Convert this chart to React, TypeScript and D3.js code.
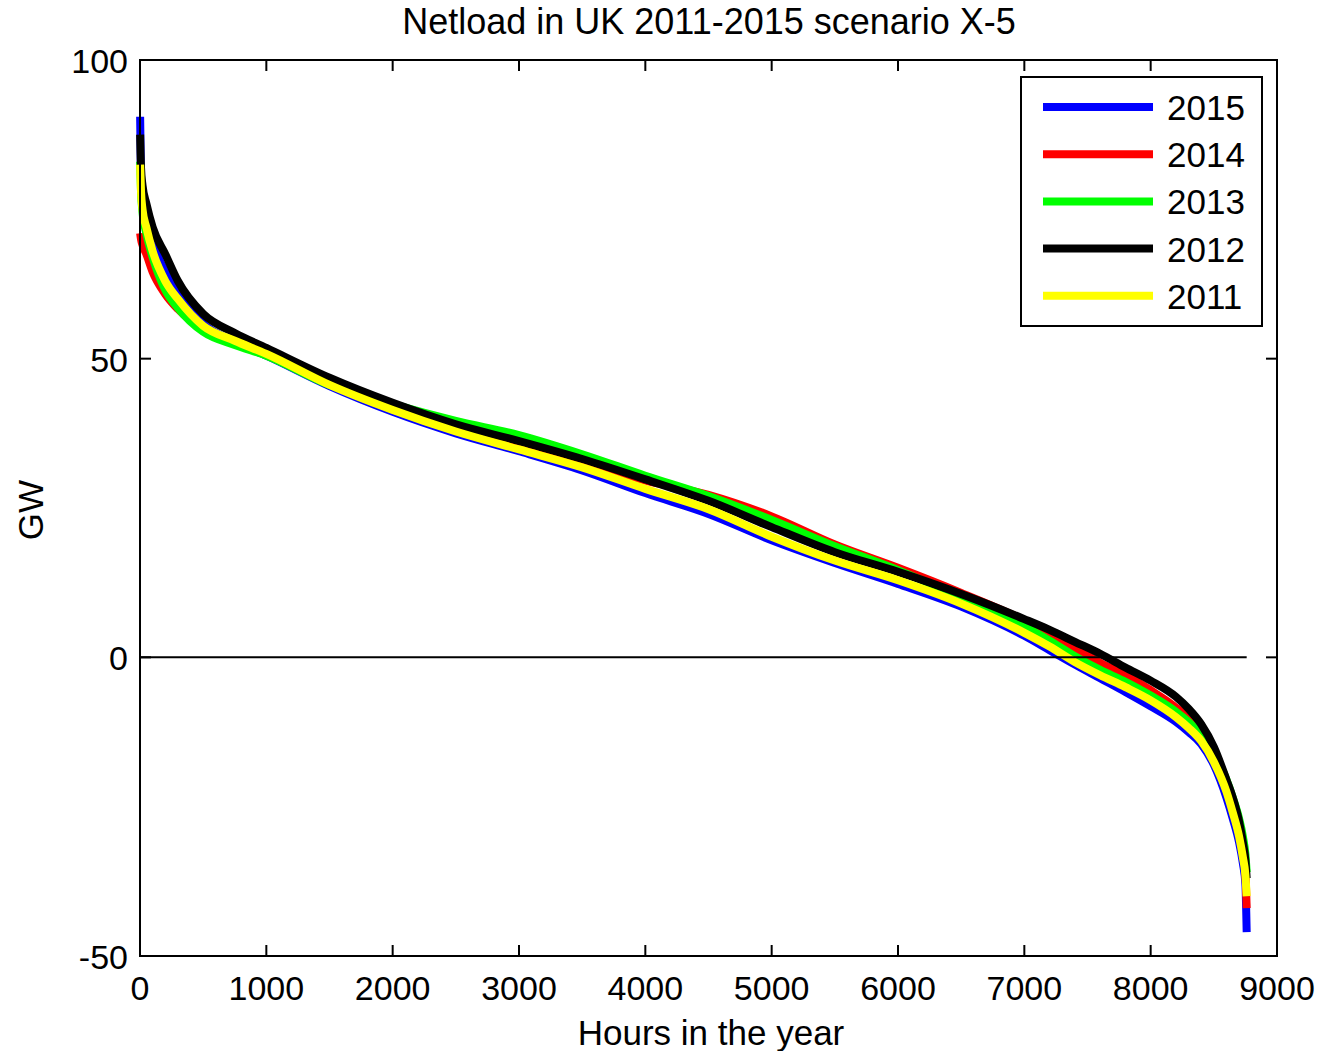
import * as d3 from 'd3';

// hours in the year (sorted duration curve sample points)
const hours = [
  1, 8, 20, 50, 100, 200, 300, 500, 750, 1000, 1500, 2000, 2500, 3000, 3500, 4000, 4500, 5000, 5500, 6000, 6500,
  7000, 7200, 7400, 7600, 7800, 8000, 8200, 8300, 8400, 8500, 8600, 8650, 8700, 8730, 8750, 8760,
];

// netload GW
const netload2015 = [
  90.5, 80, 77, 73, 69.5, 64.5, 61, 55.8, 52.8, 50.5, 45.4, 41.1, 37.5, 34.5, 31.3, 27.5, 24, 19.6, 15.8, 12.3,
  8.5, 3.6, 1.2, -1.2, -3.5, -5.8, -8.2, -10.8, -12.5, -14.5, -18, -23.5, -27, -31, -34.5, -38, -46,
];
const netload2014 = [
  71, 70, 69, 67.5, 64.5, 60.8, 58.3, 55, 52.6, 50.6, 45.8, 42, 38.3, 35.3, 32.4, 29.6, 27.2, 23.6, 18.9, 15,
  10.8, 6.2, 4, 1.6, -0.9, -2.9, -5.5, -8.4, -10.2, -12.5, -16, -21.5, -25, -29, -32.5, -36, -42,
];
const netload2013 = [
  83, 78, 74.5, 71, 67, 61.5, 58.5, 54.5, 52.3, 50.5, 45.6, 42.4, 39.6, 37.2, 34, 30.4, 27, 23, 18.6, 14.6, 10,
  5.2, 2.8, 0.2, -2.1, -4.1, -6.4, -9.1, -10.8, -13, -16, -20.5, -23.5, -27, -30, -33, -36,
];
const netload2012 = [
  87.5, 82, 79, 76, 72, 67.5, 63, 57.5, 54.3, 51.8, 46.8, 42.6, 39, 36.2, 33.2, 29.8, 26.2, 21.8, 17.6, 14.3,
  10.6, 6.4, 4.6, 2.6, 0.6, -1.7, -3.9, -6.6, -8.6, -11.2, -15, -20.5, -23.5, -27.5, -31, -34, -37,
];
const netload2011 = [
  82.5, 78, 75, 72, 68, 63, 60, 55.5, 53, 50.8, 45.6, 41.4, 37.8, 34.8, 31.8, 28.2, 24.8, 20.2, 16.2, 12.9, 9,
  4.1, 1.8, -0.8, -3, -5, -7.2, -10, -11.8, -14, -17.5, -22.5, -26, -30, -33.5, -36.5, -40,
];

const years = ['2015', '2014', '2013', '2012', '2011'];
const colors = ['#0000ff', '#ff0000', '#00ff00', '#000000', '#ffff00'];
const seriesValues = [netload2015, netload2014, netload2013, netload2012, netload2011];

const xTicks = [0, 1000, 2000, 3000, 4000, 5000, 6000, 7000, 8000, 9000];
const yTicks = [-50, 0, 50, 100];

const width = 1320;
const height = 1051;
const left = 140;
const right = 1277;
const top = 60;
const bottom = 956;
const tickLen = 11;
const font = '"Liberation Sans", Arial, sans-serif';

const App = () => {
  const xScale = d3.scaleLinear([0, 9000], [left, right]);
  const yScale = d3.scaleLinear([-50, 100], [bottom, top]);

  const I = d3.range(hours.length);

  // one line generator per series
  const makeLine = (vals: number[]) =>
    d3
      .line<number>()
      .curve(d3.curveMonotoneX)
      .x(i => xScale(hours[i]))
      .y(i => yScale(vals[i]))(I) as string;

  return (
    <svg
      width={width}
      height={height}
      viewBox={`0 0 ${width} ${height}`}
      style={{ position: 'absolute', left: 0, top: 0, background: '#fff' }}
      fontFamily={font}
    >
      <rect x={0} y={0} width={width} height={height} fill="#fff" />

      {/* curves, 2015 first so 2011 ends on top */}
      {seriesValues.map((vals, s) => (
        <path
          key={years[s]}
          d={makeLine(vals)}
          fill="none"
          stroke={colors[s]}
          strokeWidth={8}
          strokeLinejoin="round"
        />
      ))}

      {/* zero line */}
      <line x1={xScale(0)} x2={xScale(8760)} y1={yScale(0)} y2={yScale(0)} stroke="#000" strokeWidth={2} />

      {/* box */}
      <rect x={left} y={top} width={right - left} height={bottom - top} fill="none" stroke="#000" strokeWidth={2} />

      {/* x ticks */}
      {xTicks.map(t => (
        <g key={`x${t}`}>
          <line x1={xScale(t)} x2={xScale(t)} y1={bottom} y2={bottom - tickLen} stroke="#000" strokeWidth={2} />
          <line x1={xScale(t)} x2={xScale(t)} y1={top} y2={top + tickLen} stroke="#000" strokeWidth={2} />
          <text x={xScale(t)} y={1000} fontSize={34} textAnchor="middle" fill="#000">
            {t}
          </text>
        </g>
      ))}

      {/* y ticks */}
      {yTicks.map(t => (
        <g key={`y${t}`}>
          <line x1={left} x2={left + tickLen} y1={yScale(t)} y2={yScale(t)} stroke="#000" strokeWidth={2} />
          <line x1={right} x2={right - tickLen} y1={yScale(t)} y2={yScale(t)} stroke="#000" strokeWidth={2} />
          <text x={128} y={yScale(t) + 13} fontSize={34} textAnchor="end" fill="#000">
            {t}
          </text>
        </g>
      ))}

      {/* title and labels */}
      <text x={709} y={34} fontSize={36} textAnchor="middle" fill="#000">
        Netload in UK 2011-2015 scenario X-5
      </text>
      <text x={711} y={1045} fontSize={35} textAnchor="middle" fill="#000">
        Hours in the year
      </text>
      <text transform="translate(43,510) rotate(-90)" fontSize={35} textAnchor="middle" fill="#000">
        GW
      </text>

      {/* legend */}
      <rect x={1021} y={77} width={241} height={249} fill="#fff" stroke="#000" strokeWidth={2} />
      {years.map((yr, s) => {
        const ly = 107 + s * 47.2;
        return (
          <g key={`leg${yr}`}>
            <line x1={1043} x2={1153} y1={ly} y2={ly} stroke={colors[s]} strokeWidth={8} />
            <text x={1167} y={ly + 13} fontSize={35} fill="#000">
              {yr}
            </text>
          </g>
        );
      })}
    </svg>
  );
};

export default App;
